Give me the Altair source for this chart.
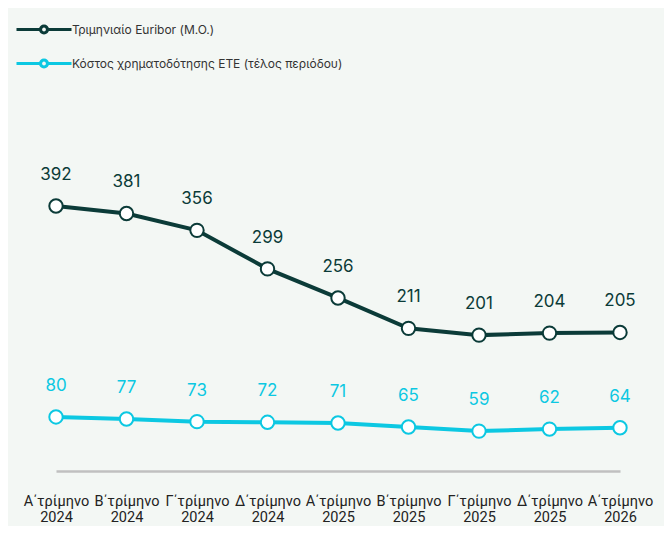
import altair as alt
import pandas as pd

quarters = ["Α΄τρίμηνο", "Β΄τρίμηνο", "Γ΄τρίμηνο", "Δ΄τρίμηνο", "Α΄τρίμηνο",
            "Β΄τρίμηνο", "Γ΄τρίμηνο", "Δ΄τρίμηνο", "Α΄τρίμηνο"]
years = ["2024", "2024", "2024", "2024", "2025", "2025", "2025", "2025", "2026"]
euribor = [392, 381, 356, 299, 256, 211, 201, 204, 205]
cost = [80, 77, 73, 72, 71, 65, 59, 62, 64]
series_names = ["Τριμηνιαίο Euribor (Μ.Ο.)", "Κόστος χρηματοδότησης ΕΤΕ (τέλος περιόδου)"]
series_colors = ["#0b3b38", "#0cc8e2"]

periods = [f"{q} {y}" for q, y in zip(quarters, years)]
rows = []
for name, vals in zip(series_names, [euribor, cost]):
    for p, v in zip(periods, vals):
        rows.append({"period": p, "series": name, "value": v})
df = pd.DataFrame(rows)

FONT = "Inter"
AXFONT = "Roboto"
# legend glyph: line with a hollow ring in the middle (ring drawn as outer + reversed inner circle)
legend_path = ("M-2.5,0H-0.32M0.32,0H2.5"
               "M-0.32,0A0.32,0.32,0,1,1,0.32,0A0.32,0.32,0,1,1,-0.32,0Z"
               "M-0.31,0A0.31,0.31,0,1,0,0.31,0A0.31,0.31,0,1,0,-0.31,0Z")

x = alt.X("period:N", sort=periods, title=None,
          scale=alt.Scale(type="point", padding=0),
          axis=alt.Axis(labelAngle=0, ticks=False, grid=False, domain=True,
                        domainColor="#c0c0c0", domainWidth=2.5,
                        labelExpr="[slice(datum.label,0,-5), slice(datum.label,-4)]",
                        labelFont=AXFONT, labelFontSize=14.5, labelColor="#222222",
                        labelLineHeight=16, labelPadding=23, labelOverlap=False,
                        labelBound=False))
y = alt.Y("value:Q", scale=alt.Scale(domain=[0, 500]), axis=None)
color_scale = alt.Scale(domain=series_names, range=series_colors)

legend = alt.Legend(title=None, orient="none", legendX=-24.5, legendY=-116,
                    symbolType=legend_path, symbolSize=484,
                    symbolStrokeWidth=3, symbolFillColor="white",
                    labelFont=FONT, labelFontSize=12, labelColor="#333333",
                    labelOffset=15.5, rowPadding=11, padding=0, labelLimit=400)

base = alt.Chart(df)

line = base.mark_line(strokeWidth=4).encode(
    x=x, y=y,
    color=alt.Color("series:N", scale=color_scale, sort=series_names, legend=legend),
)

points = base.mark_point(filled=False, fill="white", fillOpacity=1, size=180,
                         strokeWidth=2, opacity=1).encode(
    x=x, y=y,
    color=alt.Color("series:N", scale=color_scale, sort=series_names, legend=legend),
)

labels = base.mark_text(dy=-31, fontSize=17, font=FONT, baseline="middle").encode(
    x=x, y=y,
    text=alt.Text("value:Q"),
    color=alt.Color("series:N", scale=color_scale, sort=series_names, legend=legend),
)

chart = alt.layer(line, points, labels).properties(
    width=564, height=338,
    autosize=alt.AutoSizeParams(type="none"),
    padding={"left": 48, "top": 125, "right": 44, "bottom": 55},
    background="#f3f7f4",
).configure_view(stroke=None)

chart.save("out.html", embed_options={"renderer": "svg", "actions": False})
